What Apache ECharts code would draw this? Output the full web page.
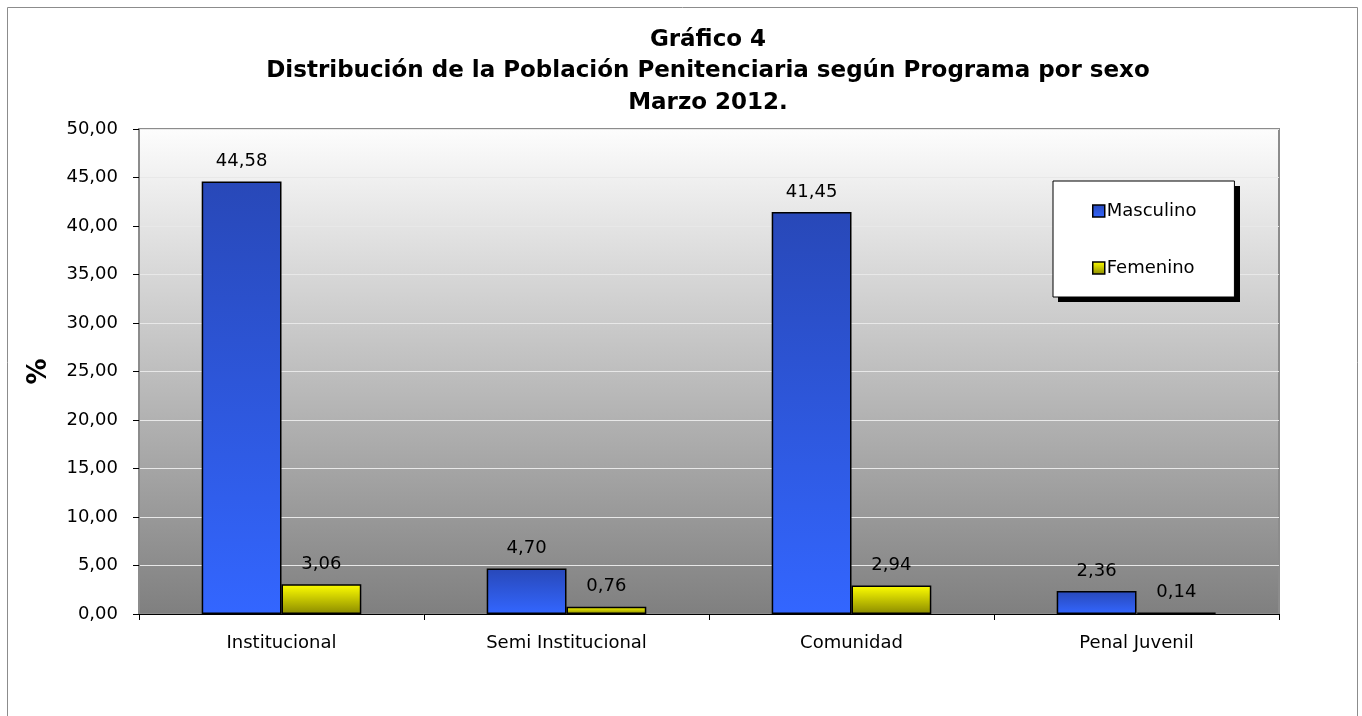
<!DOCTYPE html>
<html>
<head>
<meta charset="utf-8">
<script src="https://cdn.jsdelivr.net/npm/echarts@6/dist/echarts.min.js"></script>
<style>
  html, body { margin: 0; padding: 0; background: #fff; }
  #chart { width: 1362px; height: 716px; }
</style>
</head>
<body>
<div id="chart"></div>
<script>
// data
var categories = ['Institucional', 'Semi Institucional', 'Comunidad', 'Penal Juvenil'];
var masculino = [44.58, 4.70, 41.45, 2.36];
var femenino = [3.06, 0.76, 2.94, 0.14];
var seriesNames = ['Masculino', 'Femenino'];
var titleLines = ['Gráfico 4', 'Distribución de la Población Penitenciaria según Programa por sexo', 'Marzo 2012.'];

var FONT = 'DejaVu Sans';

function comma(v) {
  return v.toFixed(2).replace('.', ',');
}

var chart = echarts.init(document.getElementById('chart'));

chart.setOption({
  animation: false,
  textStyle: { fontFamily: FONT },
  graphic: [{
    // outer frame of the chart
    type: 'rect',
    shape: { x: 7.5, y: 7.5, width: 1350, height: 730 },
    style: { fill: 'none', stroke: '#8c8c8c', lineWidth: 1 },
    silent: true
  }, {
    // title, centred over the plot area
    type: 'text',
    x: 708,
    y: 24,
    silent: true,
    style: {
      text: titleLines.join('\n'),
      align: 'center',
      verticalAlign: 'top',
      font: 'bold 23px "DejaVu Sans"',
      lineHeight: 31.5,
      fill: '#000'
    }
  }, {
    // legend drop shadow
    type: 'rect',
    z: 1,
    shape: { x: 1058, y: 186, width: 182, height: 116 },
    style: { fill: '#000' },
    silent: true
  }],
  legend: {
    orient: 'vertical',
    left: 1053,
    top: 181,
    z: 5,
    data: seriesNames,
    icon: 'rect',
    itemWidth: 12,
    itemHeight: 12,
    itemGap: 39,
    itemStyle: { borderColor: '#000', borderWidth: 1.5 },
    padding: [21, 38, 20, 39],
    backgroundColor: '#fff',
    borderColor: '#000',
    borderWidth: 1,
    textStyle: { fontFamily: FONT, fontSize: 18, color: '#000', padding: [0, 0, 0, -3] }
  },
  grid: {
    left: 139,
    right: 83,
    top: 129,
    bottom: 102,
    show: true,
    borderColor: '#8c8c8c',
    borderWidth: 2,
    backgroundColor: new echarts.graphic.LinearGradient(0, 0, 0, 1, [
      { offset: 0, color: '#fdfdfd' },
      { offset: 1, color: '#7f7f7f' }
    ])
  },
  xAxis: {
    type: 'category',
    data: categories,
    axisLine: { lineStyle: { color: '#000', width: 1 } },
    axisTick: { show: true, length: 6, lineStyle: { color: '#000' } },
    axisLabel: { fontFamily: FONT, fontSize: 18, color: '#000', margin: 20 }
  },
  yAxis: {
    type: 'value',
    min: 0,
    max: 50,
    interval: 5,
    name: '%',
    nameLocation: 'middle',
    nameGap: 87,
    nameTextStyle: { fontFamily: FONT, fontSize: 26, fontWeight: 'bold', color: '#000' },
    axisLine: { show: true, lineStyle: { color: '#8c8c8c', width: 1 } },
    axisTick: { show: true, length: 6, lineStyle: { color: '#000' } },
    axisLabel: { fontFamily: FONT, fontSize: 18, color: '#000', margin: 21, formatter: comma },
    splitLine: { show: true, lineStyle: { color: '#e8e8e8', width: 1 } }
  },
  series: [{
    name: seriesNames[0],
    type: 'bar',
    data: masculino,
    barGap: '0%',
    barCategoryGap: '44%',
    itemStyle: {
      color: new echarts.graphic.LinearGradient(0, 0, 0, 1, [
        { offset: 0, color: '#2848b8' },
        { offset: 1, color: '#3366ff' }
      ]),
      borderColor: '#000',
      borderWidth: 1.5
    },
    label: {
      show: true,
      position: 'top',
      distance: 11,
      fontFamily: FONT,
      fontSize: 18,
      color: '#000',
      formatter: function (p) { return comma(p.value); }
    }
  }, {
    name: seriesNames[1],
    type: 'bar',
    data: femenino,
    itemStyle: {
      color: new echarts.graphic.LinearGradient(0, 0, 0, 1, [
        { offset: 0, color: '#ffff00' },
        { offset: 1, color: '#8a8a00' }
      ]),
      borderColor: '#000',
      borderWidth: 1.5
    },
    label: {
      show: true,
      position: 'top',
      distance: 11,
      fontFamily: FONT,
      fontSize: 18,
      color: '#000',
      formatter: function (p) { return comma(p.value); }
    }
  }]
});
</script>
</body>
</html>
